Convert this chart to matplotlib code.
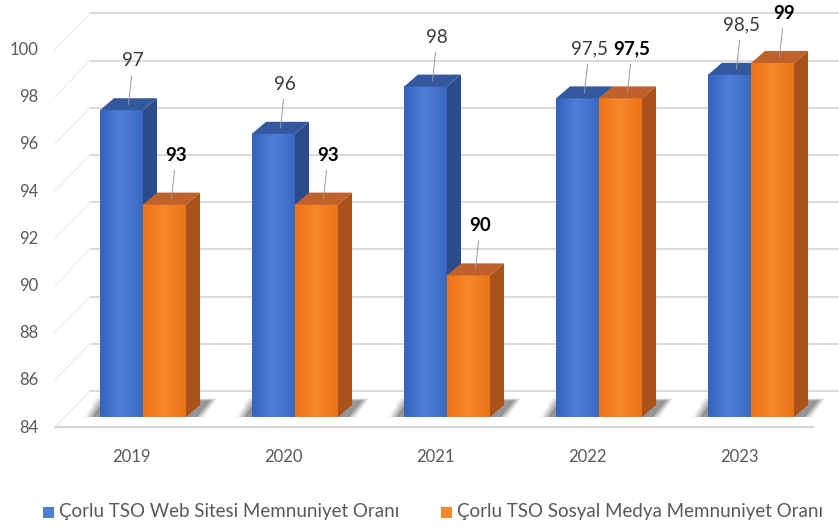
import matplotlib
matplotlib.use("Agg")
import matplotlib.pyplot as plt
import numpy as np
from matplotlib.colors import LinearSegmentedColormap
from matplotlib.patches import Polygon, Rectangle

plt.rcParams["font.family"] = ["Lato", "DejaVu Sans"]

years = ["2019", "2020", "2021", "2022", "2023"]
web = [97, 96, 98, 97.5, 98.5]
social = [93, 93, 90, 97.5, 99]
y_ticks = [84, 86, 88, 90, 92, 94, 96, 98, 100]
series_names = ["Çorlu TSO Web Sitesi Memnuniyet Oranı",
                "Çorlu TSO Sosyal Medya Memnuniyet Oranı"]

W, H = 839, 531
PX, PY = 152.0, 23.6          # pixels per category / per value unit
X0_PX, BASE_PX = 131.0, 417.0  # pixel of category 0 and of value 84
BASE = 84

BAR_W = 43 / PX
BAR_OFF = 12 / PX
DDX, DDY = 14 / PX, 12 / PY    # depth of the bars
BACK_DY = 26 / PY              # back wall offset
FRONT_DY = -10 / PY            # front edge offset

STYLE = {
    "web": dict(face=["#3563bf", "#4d7fd8", "#3c68c2"], top="#34589e",
                side="#2c4b8c", label_color="#3a3a3a", weight="normal"),
    "social": dict(face=["#ee7417", "#f6872c", "#ec7418"], top="#c0602a",
                   side="#a9521c", label_color="#000000", weight="bold"),
}


def px_to_x(px):
    return (px - X0_PX) / PX


def px_to_y(py):
    return BASE + (BASE_PX - py) / PY


def fmt(v):
    return str(int(v)) if float(v).is_integer() else str(v).replace(".", ",")


def draw_bar(ax, left, value, st):
    right = left + BAR_W
    cmap = LinearSegmentedColormap.from_list("f", st["face"])
    grad = np.linspace(0, 1, 64).reshape(1, -1)
    ax.imshow(grad, extent=[left, right, BASE, value], cmap=cmap,
              aspect="auto", zorder=3, interpolation="bicubic")
    ax.add_patch(Polygon([(right, BASE), (right + DDX, BASE + DDY),
                          (right + DDX, value + DDY), (right, value)],
                         closed=True, fc=st["side"], ec="none", zorder=3))
    ax.add_patch(Polygon([(left, value), (right, value),
                          (right + DDX, value + DDY), (left + DDX, value + DDY)],
                         closed=True, fc=st["top"], ec="none", zorder=3))


def draw_label(ax, left, value, st):
    cx = left + BAR_W / 2 + DDX / 2
    ax.plot([cx + 0.02, cx], [value + 1.45, value + DDY / 2],
            color="#9a9a9a", lw=0.7, zorder=4)
    ax.text(cx + 0.03, value + 2.1, fmt(value), ha="center", va="center",
            fontsize=13.5, color=st["label_color"], fontweight=st["weight"],
            zorder=5)


fig = plt.figure(figsize=(W / 100, H / 100), dpi=100)
ax = fig.add_axes([0, 0, 1, 1])
ax.set_axis_off()

x_left_front, x_left_back = px_to_x(55), px_to_x(90)
x_right_front, x_right_back = px_to_x(813), px_to_x(W + 5)

# back wall and left wall gridlines
for t in y_ticks:
    ax.plot([x_left_back, x_right_back], [t + BACK_DY] * 2,
            color="#d9d9d9", lw=1.4, zorder=1)
    ax.plot([x_left_front, x_left_back], [t + FRONT_DY, t + BACK_DY],
            color="#ededed", lw=1.0, zorder=1)
    ax.text(px_to_x(38), t - 0.45, str(t), ha="right", va="center",
            fontsize=12, color="#595959")

# floor front edge
ax.plot([x_left_front, x_right_front], [BASE + FRONT_DY] * 2,
        color="#d4d4d4", lw=1.5, zorder=1)

idx = np.arange(len(years))
for i in idx:
    bl = i + BAR_OFF - BAR_W
    br = i + BAR_OFF + BAR_W + DDX
    # soft shadow on the floor behind each pair of bars
    for k, a in enumerate([0.10, 0.14, 0.18, 0.25]):
        g = (3 - k) * 0.015
        ax.add_patch(Polygon([(bl - 0.05 - g, BASE),
                              (br - 0.02 + g, BASE),
                              (br + 0.07 + g, BASE + 0.7 + g * 2),
                              (bl + 0.02 - g, BASE + 0.7 + g * 2)],
                             closed=True, fc="#3a3a3a", ec="none",
                             alpha=a, zorder=2))
    draw_bar(ax, bl, web[i], STYLE["web"])
    draw_bar(ax, i + BAR_OFF, social[i], STYLE["social"])
    draw_label(ax, bl, web[i], STYLE["web"])
    draw_label(ax, i + BAR_OFF, social[i], STYLE["social"])
    ax.text(i, px_to_y(457), years[i], ha="center", va="center",
            fontsize=12, color="#595959")

# legend
legend_items = [(43, STYLE["web"]["face"][1], series_names[0]),
                (441, STYLE["social"]["face"][1], series_names[1])]
for x_px, color, name in legend_items:
    fig.patches.append(Rectangle((x_px / W, 1 - 518 / H), 11 / W, 11 / H,
                                 transform=fig.transFigure, fc=color,
                                 ec="none"))
    fig.text((x_px + 16) / W, 1 - 512 / H, name, ha="left", va="center",
             fontsize=13.5, color="#595959")

ax.set_xlim(px_to_x(0), px_to_x(W))
ax.set_ylim(px_to_y(H), px_to_y(0))

fig.savefig("out.png", dpi=100)
